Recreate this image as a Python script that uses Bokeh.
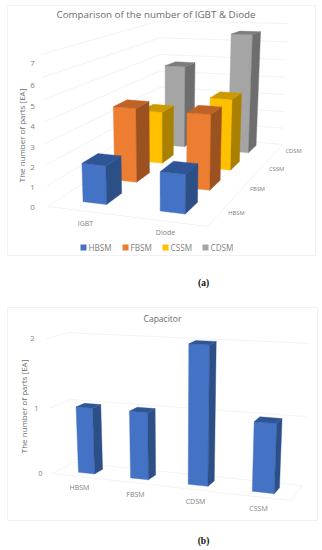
import numpy as np
from bokeh.plotting import figure
from bokeh.layouts import column
from bokeh.models import Range1d, ColumnDataSource
from bokeh.core.properties import value
from bokeh.embed import file_html
from bokeh.resources import INLINE

# ---- data ----
parts = ["IGBT", "Diode"]
modules = ["HBSM", "FBSM", "CSSM", "CDSM"]
hbsm_counts = [2, 2]
fbsm_counts = [4, 4]
cssm_counts = [3, 4]
cdsm_counts = [5, 7]
y_ticks_a = [0, 1, 2, 3, 4, 5, 6, 7]

cap_modules = ["HBSM", "FBSM", "CDSM", "CSSM"]
cap_counts = [1, 1, 2, 1]
y_ticks_b = [0, 1, 2]

title_a = "Comparison of the number of IGBT & Diode"
title_b = "Capacitor"
y_title = "The number of parts [EA]"

# ---- styles: front, top, side ----
SHADES = {
    "HBSM": ("#4472C4", "#2F5597", "#2C4F88"),
    "FBSM": ("#ED7D31", "#BE6226", "#9C5220"),
    "CSSM": ("#FFC000", "#CC9A00", "#A98000"),
    "CDSM": ("#A5A5A5", "#7C7C7C", "#6E6E6E"),
}
FONT = "Open Sans"
GREY = "#7f7f7f"
GRID = "#f3f3f3"
CARD = "#f2f2f2"


class Floor:
    """Perspective map: (s,t) on the unit floor and a value to page pixels."""

    def __init__(self, p00, p10, p01, p11, units, tilt, xc, grow):
        src = [(0, 0), (1, 0), (0, 1), (1, 1)]
        dst = [p00, p10, p01, p11]
        A, b = [], []
        for (s, t), (x, y) in zip(src, dst):
            A.append([s, t, 1, 0, 0, 0, -s * x, -t * x]); b.append(x)
            A.append([0, 0, 0, s, t, 1, -s * y, -t * y]); b.append(y)
        self.h = np.linalg.solve(np.array(A, float), np.array(b, float))
        self.units, self.tilt, self.xc, self.grow = units, tilt, xc, grow

    def __call__(self, s, t, val):
        a, b_, c, d, e, f, g, h = self.h
        w = g * s + h * t + 1
        x0 = (a * s + b_ * t + c) / w
        y0 = (d * s + e * t + f) / w
        u00, u10, u01, u11 = self.units
        unit = (1 - s) * (1 - t) * u00 + s * (1 - t) * u10 + (1 - s) * t * u01 + s * t * u11
        return (x0 + self.tilt * val * (x0 - self.xc),
                y0 - unit * val * (1 + self.grow * (val - 1)))


def bar(p, fl, s0, s1, t0, t1, val, shades, squash=1.0):
    front, top, side = shades
    h = val * squash
    faces = [
        ([(s0, t0, 0), (s1, t0, 0), (s1, t0, h), (s0, t0, h)], front),
        ([(s1, t0, 0), (s1, t1, 0), (s1, t1, h), (s1, t0, h)], side),
        ([(s0, t0, h), (s1, t0, h), (s1, t1, h), (s0, t1, h)], top),
    ]
    for pts, col in faces:
        xy = [fl(*q) for q in pts]
        src = ColumnDataSource(dict(xs=[[q[0] for q in xy]], ys=[[q[1] for q in xy]]))
        p.patches("xs", "ys", source=src, fill_color=col, line_color=col, line_width=0.4)


def label(p, x, y, txt, size, color=GREY, align="center", angle=0.0, font=FONT, style="normal"):
    p.text([x], [y], text=[txt], text_font=value(font), text_font_size=f"{size}px",
           text_color=color, text_align=align, text_baseline="middle", angle=angle,
           text_font_style=style)


def panel(top, bottom):
    p = figure(width=322, height=bottom - top, output_backend="svg", toolbar_location=None,
               x_range=Range1d(0, 322), y_range=Range1d(bottom, top), min_border=0,
               outline_line_color=None, background_fill_color="white", border_fill_color="white")
    p.axis.visible = False
    p.grid.visible = False
    return p


def walls(p, fl, ticks):
    for v in ticks:
        pts = [fl(0, 0, v), fl(0, 1, v), fl(1, 1, v)]
        p.line([q[0] for q in pts], [q[1] for q in pts], line_color=GRID, line_width=1)
    p.line(*zip(fl(0, 0, 0), fl(1, 0, 0), fl(1, 1, 0)), line_color=GRID, line_width=1)


# ---------- panel (a) ----------
p1 = panel(0, 290)
p1.line([7, 315, 315, 7, 7], [5, 5, 255, 255, 5], line_color=CARD)
label(p1, 155.5, 14, title_a, 9.8, "#6b6b6b")

fa = Floor((47, 206), (207, 226), (160, 133), (282, 144),
           (20.5, 21.5, 15.2, 16.3), 0.0075, 165, 0.01)
walls(p1, fa, y_ticks_a)

series_a = [hbsm_counts, fbsm_counts, cssm_counts, cdsm_counts]
for j in range(3, -1, -1):
    tc = (j + 0.5) / 4 + 0.015
    for i, cnt in enumerate(series_a[j]):
        sc = (i + 0.5) / 2 - 0.012
        bar(p1, fa, sc - 0.078, sc + 0.078, tc - 0.06, tc + 0.06, cnt, SHADES[modules[j]], 0.94)

tick_a_pos = [207, 187, 167, 147, 126, 106, 85, 63]
for v, yy in zip(y_ticks_a, tick_a_pos):
    label(p1, 32, yy, str(v), 8)
label(p1, 21, 135, y_title, 8, "#6b6b6b", angle=np.pi / 2)
for name, xx, yy in zip(parts, [85, 165], [222.5, 232]):
    label(p1, xx, yy, name, 7)
for name, xx, yy in zip(modules, [236, 257, 276, 293], [212.5, 188.5, 168.5, 150.5]):
    label(p1, xx, yy, name, 5.8)
for name, xx in zip(modules, [80, 122, 162, 202]):
    p1.quad(left=[xx], right=[xx + 6], top=[244], bottom=[250],
            fill_color=SHADES[name][0], line_color=None)
    label(p1, xx + 8, 247, name, 8.2, align="left")
label(p1, 203, 282, "(a)", 9.5, "#111111", font="Liberation Serif", style="bold")

# ---------- panel (b) ----------
p2 = panel(290, 550)
p2.line([7, 317, 317, 7, 7], [307, 307, 520, 520, 307], line_color=CARD)
label(p2, 162, 318, title_b, 8.5, "#6b6b6b")

fb = Floor((52, 473), (290, 500), (73, 462), (302, 485),
           (65.5, 71, 63, 69), 0.025, 175, 0.03)
walls(p2, fb, y_ticks_b)
for i, cnt in enumerate(cap_counts):
    sc = (i + 0.5) / 4 + 0.015
    bar(p2, fb, sc - 0.04, sc + 0.04, 0.3, 0.7, cnt, SHADES["HBSM"])
tick_b_pos = [(40, 473), (36, 408), (32, 338)]
for v, (xx, yy) in zip(y_ticks_b, tick_b_pos):
    label(p2, xx, yy, str(v), 7.5)
label(p2, 23, 406, y_title, 8, "#6b6b6b", angle=np.pi / 2)
for name, xx, yy in zip(cap_modules, [79, 135, 195, 258], [487, 493.5, 500.5, 507.5]):
    label(p2, xx, yy, name, 7)
label(p2, 203, 540, "(b)", 9.5, "#111111", font="Liberation Serif", style="bold")

page = column(p1, p2, spacing=0)
open("out.html", "w").write(file_html(page, INLINE))
